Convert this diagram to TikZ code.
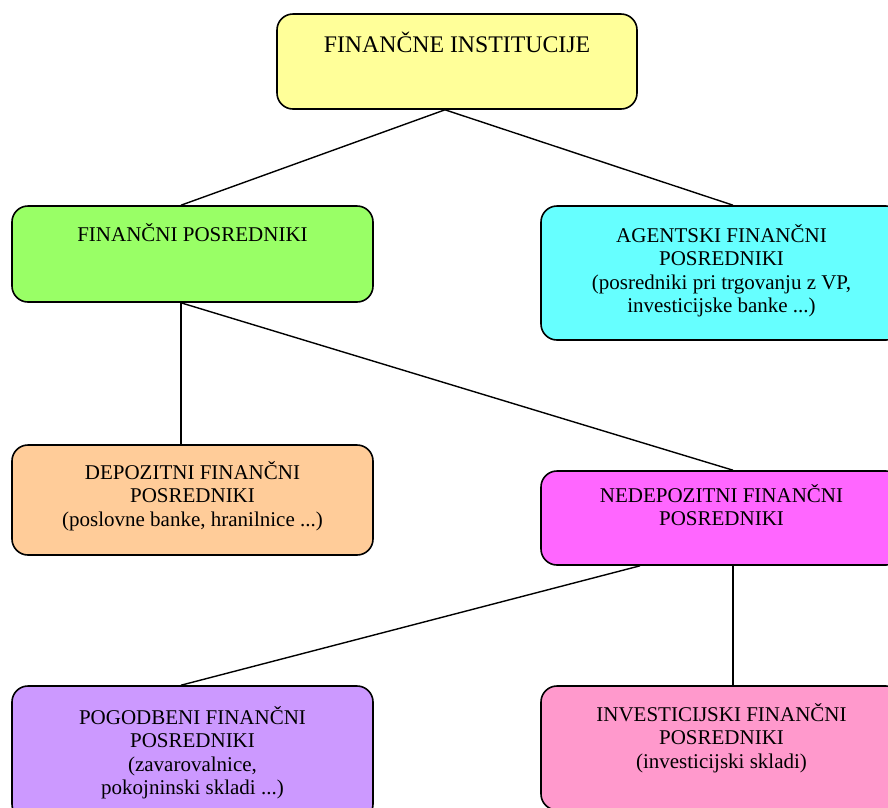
\documentclass[tikz,border=0pt]{standalone}
\usepackage{fontspec}
\setmainfont{Liberation Serif}
\usetikzlibrary{positioning}
\definecolor{boxyellow}{HTML}{FFFF99}
\definecolor{boxgreen}{HTML}{99FF66}
\definecolor{boxcyan}{HTML}{66FFFF}
\definecolor{boxorange}{HTML}{FFCC99}
\definecolor{boxmagenta}{HTML}{FF66FF}
\definecolor{boxpurple}{HTML}{CC99FF}
\definecolor{boxpink}{HTML}{FF99CC}
\begin{document}
\begin{tikzpicture}[
  x=1pt, y=-1pt,
  every node/.style={font=\fontsize{21}{23.5}\selectfont},
  box/.style={draw, line width=1.6pt, rounded corners=16pt,
              minimum width=361pt, inner sep=0pt},
  txt/.style={align=center, inner sep=0pt, anchor=north},
  link/.style={line width=1.4pt},
]
  \useasboundingbox (0,0) rectangle (888,807);
  \clip (0,0) rectangle (888,807);
  % boxes
  \node[box, fill=boxyellow, minimum width=360pt, minimum height=95pt] (fi) at (457,61.5) {};
  \node[box, fill=boxgreen, minimum height=96pt] (fp) at (192.5,254) {};
  \node[box, fill=boxcyan, minimum height=134pt] (af) at (721.5,273) {};
  \node[box, fill=boxorange, minimum height=110pt] (dp) at (192.5,500) {};
  \node[box, fill=boxmagenta, minimum height=94pt] (np) at (721.5,518) {};
  \node[box, fill=boxpurple, minimum height=134pt] (pg) at (192.5,753) {};
  \node[box, fill=boxpink, minimum height=124pt] (ip) at (721.5,748) {};
  % texts
  \node[txt, below=19pt of fi.north, font=\fontsize{23.8}{26}\selectfont] {FINANČNE INSTITUCIJE};
  \node[txt, below=18pt of fp.north] {FINANČNI POSREDNIKI};
  \node[txt, below=19pt of af.north] {AGENTSKI FINANČNI\\POSREDNIKI\\(posredniki pri trgovanju z VP,\\investicijske banke ...)};
  \node[txt, below=17pt of dp.north] {DEPOZITNI FINANČNI\\POSREDNIKI\\(poslovne banke, hranilnice ...)};
  \node[txt, below=14pt of np.north] {NEDEPOZITNI FINANČNI\\POSREDNIKI};
  \node[txt, below=21pt of pg.north] {POGODBENI FINANČNI\\POSREDNIKI\\(zavarovalnice,\\pokojninski skladi ...)};
  \node[txt, below=18pt of ip.north] {INVESTICIJSKI FINANČNI\\POSREDNIKI\\(investicijski skladi)};
  % connectors
  \draw[link] ([xshift=-12pt]fi.south) -- ([xshift=-11.5pt]fp.north);
  \draw[link] ([xshift=-12pt]fi.south) -- ([xshift=11.5pt]af.north);
  \draw[link] ([xshift=-11.5pt]fp.south) -- ([xshift=-11.5pt]dp.north);
  \draw[link] ([xshift=-11.5pt]fp.south) -- ([xshift=11.5pt]np.north);
  \draw[link] ([xshift=-81.5pt]np.south) -- ([xshift=-11.5pt]pg.north);
  \draw[link] ([xshift=11.5pt]np.south) -- ([xshift=11.5pt]ip.north);
\end{tikzpicture}
\end{document}
